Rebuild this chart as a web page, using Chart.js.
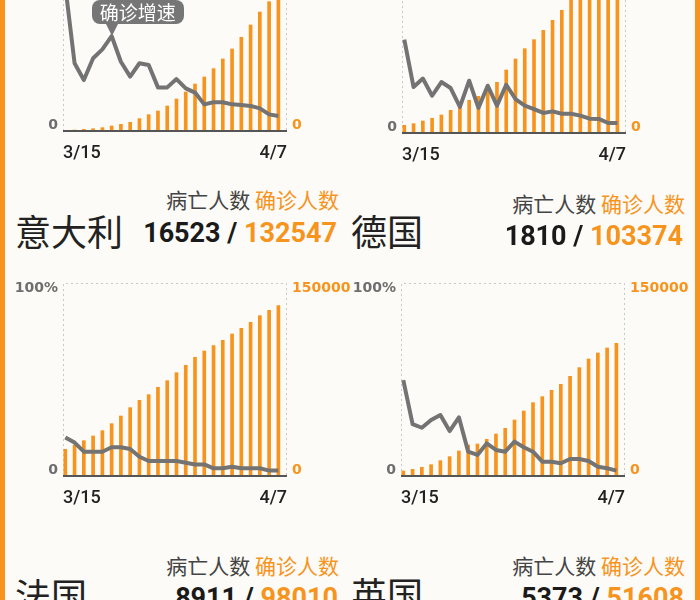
<!DOCTYPE html>
<html>
<head>
<meta charset="utf-8">
<script src="https://cdn.jsdelivr.net/npm/chart.js@4.4.1/dist/chart.umd.min.js"></script>
<style>
  html, body { margin: 0; padding: 0; }
  body {
    width: 700px; height: 600px; overflow: hidden; position: relative;
    background: #fcfbf7; font-family: "Noto Sans CJK SC", sans-serif;
  }
  .strip { position: absolute; top: 0; bottom: 0; width: 5px; background: #f7941d; }
  canvas { position: absolute; }
  .legend { position: absolute; font-size: 21px; line-height: 24px; color: #444; white-space: nowrap; }
  .orange { color: #f7941d; }
  .name { position: absolute; font-size: 36px; line-height: 40px; color: #222; white-space: nowrap; }
  .total { position: absolute; font: 700 27px Roboto, sans-serif; line-height: 30px; color: #1a1a1a; white-space: nowrap; }
  #callout {
    position: absolute; background: #767676; color: #fff; font-size: 19px; line-height: 24px;
    padding: 0 8px; border-radius: 8px; white-space: nowrap;
  }
  #callout::after {
    content: ""; position: absolute; left: 14px; top: 100%;
    border-left: 6px solid transparent; border-right: 6px solid transparent; border-top: 12px solid #767676;
  }
</style>
</head>
<body>
<div class="strip" style="left:0"></div>
<div class="strip" style="right:0"></div>

<canvas id="c0" width="360" height="245" style="left:0px; top:-81.7px"></canvas>
<canvas id="c1" width="360" height="245" style="left:339px; top:-79.7px"></canvas>
<canvas id="c2" width="360" height="245" style="left:0px; top:263px"></canvas>
<canvas id="c3" width="360" height="245" style="left:338px; top:263px"></canvas>
<div id="callout">确诊增速</div>

<script>
// dates on the x axis
const dates = ['3/15', '3/16', '3/17', '3/18', '3/19', '3/20', '3/21', '3/22', '3/23', '3/24', '3/25', '3/26',
  '3/27', '3/28', '3/29', '3/30', '3/31', '4/1', '4/2', '4/3', '4/4', '4/5', '4/6', '4/7']

// growth rate of confirmed cases, %
const italyRate = [75, 35.1, 26.4, 37.7, 42.3, 49.2, 35.9, 28.2, 35.1, 34.2, 22.6, 22.6,
  26.9, 22.1, 19.9, 13.8, 14.9, 14.9, 13.8, 13.5, 13, 11.7, 8.6, 7.8]
const germanyRate = [48.4, 23.8, 28.2, 19.3, 26.4, 23.3, 13.5, 27.1, 13, 24.5, 14.2, 25,
  17.6, 14.2, 12.4, 10.4, 11.2, 10, 10, 9, 7.4, 7.3, 5.2, 5.2]
const franceRate = [20, 17.3, 12.6, 12.6, 12.6, 14.9, 14.9, 14, 10, 7.8, 7.8, 7.8,
  7.8, 6.9, 6, 6, 4, 4, 4.8, 4, 4, 4, 2.8, 2.8]
const ukRate = [49.7, 26.9, 25, 29, 31.6, 23.3, 30.4, 12.6, 10.9, 16.9, 13.5, 12.6,
  17.8, 14.9, 12.6, 7.4, 7.4, 6.6, 8.8, 8.8, 7.8, 4.8, 4, 2.8]

// confirmed cases (bars)
const italyCases = [520, 780, 1300, 1810, 2590, 3890, 5180, 6740, 9590, 12690, 15540, 19430,
  24870, 30310, 36530, 41970, 48450, 55960, 63730, 72800, 82380, 92490, 100520, 110000]
const germanyCases = [5960, 7250, 9330, 11400, 13990, 17620, 21240, 25390, 28500, 33160, 39380, 48960,
  57510, 65540, 72540, 79790, 87570, 95340, 104150, 112000, 120000, 127000, 134000, 140000]
const franceCases = [20730, 24090, 27460, 31090, 35230, 40670, 46630, 53110, 58810, 63210, 68910, 74090,
  80310, 86010, 92230, 97150, 101300, 105440, 110360, 114770, 119430, 124610, 128760, 132380]
const ukCases = [3890, 5180, 6740, 8810, 11920, 15030, 19430, 24090, 24870, 28500, 32640, 37050,
  43520, 50520, 57000, 61660, 66580, 71240, 77460, 84200, 90930, 95600, 99480, 103110]

// axis tick labels
const rateTicks = ['0', '100%']
const caseTicks = ['0', '150000']

// headline numbers under each chart
const countries = ['意大利', '德国', '法国', '英国']
const deaths = [16523, 1810, 8911, 5373]
const confirmed = [132547, 103374, 98010, 51608]

const calloutIndex = 5

const ORANGE = '#f7941d'
const GRAY = '#737373'
const PLOT_H = 193

Chart.defaults.font.family = 'Roboto'

// dotted frame on top/left/right, solid baseline
const framePlugin = {
  id: 'frame',
  beforeDatasetsDraw(chart) {
    const {ctx, chartArea: a} = chart
    ctx.save()
    ctx.strokeStyle = '#c8c8c8'
    ctx.lineWidth = 1
    ctx.setLineDash([2, 3])
    ctx.beginPath()
    ctx.moveTo(a.left + 0.5, a.bottom)
    ctx.lineTo(a.left + 0.5, a.top + 0.5)
    ctx.lineTo(a.right - 0.5, a.top + 0.5)
    ctx.lineTo(a.right - 0.5, a.bottom)
    ctx.stroke()
    ctx.restore()
  },
  afterDraw(chart) {
    const {ctx, chartArea: a} = chart
    ctx.save()
    ctx.strokeStyle = '#555'
    ctx.lineWidth = 2
    ctx.beginPath()
    ctx.moveTo(a.left, a.bottom)
    ctx.lineTo(a.right, a.bottom)
    ctx.stroke()
    ctx.restore()
  }
}

// moves the html bubble onto the chosen point of the line
const calloutPlugin = {
  id: 'callout',
  afterRender(chart) {
    const box = document.getElementById('callout')
    const pt = chart.getDatasetMeta(0).data[calloutIndex]
    const left = parseFloat(chart.canvas.style.left) + pt.x
    const top = parseFloat(chart.canvas.style.top) + pt.y
    box.style.left = (left - 20) + 'px'
    box.style.top = (top - 36) + 'px'
  }
}

// keep the two labels just inside the ends of a y axis
const insetTicks = (axis) => {
  const pad = (axis.max - axis.min) * 5.5 / PLOT_H
  axis.ticks = [{value: axis.min + pad}, {value: axis.max - pad}]
}

const makeChart = (id, rate, cases, extra) => new Chart(document.getElementById(id), {
  type: 'bar',
  data: {
    datasets: [
      {
        type: 'line',
        data: rate.map((v, i) => ({x: i, y: v})),
        yAxisID: 'rate',
        borderColor: GRAY,
        borderWidth: 4,
        borderJoinStyle: 'round',
        pointRadius: 0,
        tension: 0,
        order: 0
      },
      {
        type: 'bar',
        data: cases.map((v, i) => ({x: i, y: v})),
        yAxisID: 'cases',
        backgroundColor: ORANGE,
        barThickness: 3,
        order: 1
      }
    ]
  },
  options: {
    responsive: false,
    animation: false,
    layout: {padding: {top: 20, left: 0, right: 0, bottom: 0}},
    plugins: {legend: {display: false}, tooltip: {enabled: false}},
    scales: {
      x: {
        type: 'linear',
        offset: false,
        min: -0.25,
        max: 23.93,
        grid: {display: false, drawTicks: false},
        border: {display: false},
        afterBuildTicks: (axis) => { axis.ticks = [{value: axis.min}, {value: axis.max}] },
        afterFit: (s) => { s.height = 32 },
        ticks: {
          align: 'inner',
          autoSkip: false,
          maxRotation: 0,
          padding: 12,
          color: '#222',
          font: {size: 18, weight: 500},
          callback: (v, i) => i === 0 ? dates[0] : dates[dates.length - 1]
        }
      },
      rate: {
        position: 'left',
        min: 0,
        max: 100,
        grid: {display: false, drawTicks: false},
        border: {display: false},
        afterBuildTicks: insetTicks,
        afterFit: (s) => { s.width = 63 },
        ticks: {
          padding: 5,
          color: '#6e6e6e',
          font: {family: 'DejaVu Sans', weight: 'bold', size: 14},
          callback: (v, i) => rateTicks[i]
        }
      },
      cases: {
        position: 'right',
        min: 0,
        max: 150000,
        grid: {display: false, drawTicks: false},
        border: {display: false},
        afterBuildTicks: insetTicks,
        afterFit: (s) => { s.width = 73 },
        ticks: {
          padding: 5,
          color: ORANGE,
          font: {family: 'DejaVu Sans', weight: 'bold', size: 14},
          callback: (v, i) => caseTicks[i]
        }
      }
    }
  },
  plugins: [framePlugin].concat(extra)
})

makeChart('c0', italyRate, italyCases, [calloutPlugin])
makeChart('c1', germanyRate, germanyCases, [])
makeChart('c2', franceRate, franceCases, [])
makeChart('c3', ukRate, ukCases, [])

// text blocks under each chart
const textPos = [
  {legend: [361, 187], name: [15, 210], total: [363, 218]},
  {legend: [15, 191], name: [351, 210], total: [17, 221]},
  {legend: [361, 553], name: [15, 574], total: [362, 583]},
  {legend: [15, 553], name: [351, 573], total: [16, 583]}
]

textPos.forEach((p, i) => {
  const legend = document.createElement('div')
  legend.className = 'legend'
  legend.style.right = p.legend[0] + 'px'
  legend.style.top = p.legend[1] + 'px'
  legend.innerHTML = '病亡人数 <span class="orange">确诊人数</span>'
  document.body.appendChild(legend)

  const name = document.createElement('div')
  name.className = 'name'
  name.style.left = p.name[0] + 'px'
  name.style.top = p.name[1] + 'px'
  name.textContent = countries[i]
  document.body.appendChild(name)

  const total = document.createElement('div')
  total.className = 'total'
  total.style.right = p.total[0] + 'px'
  total.style.top = p.total[1] + 'px'
  total.innerHTML = deaths[i] + ' / <span class="orange">' + confirmed[i] + '</span>'
  document.body.appendChild(total)
})
</script>
</body>
</html>
